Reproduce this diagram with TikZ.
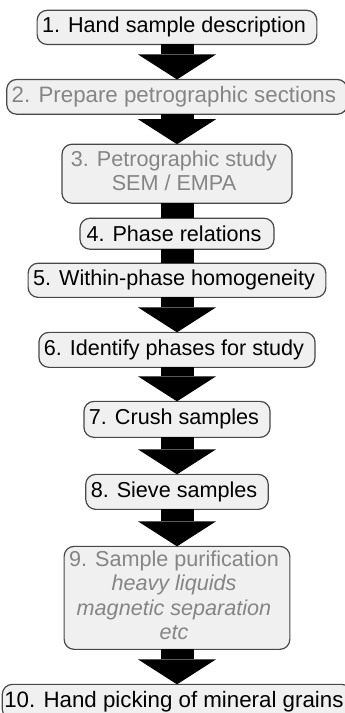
\documentclass[tikz,border=0pt]{standalone}
\usepackage{fontspec}
\setmainfont{Liberation Sans}
\usepackage{tikz}
\usetikzlibrary{arrows.meta}
\usetikzlibrary{matrix}
\colorlet{boxfill}{black!6}
\colorlet{boxline}{black!72}
\colorlet{greytext}{black!48}
\newcommand\lines[1]{\begin{tabular}{@{}c@{}}#1\end{tabular}}
\tikzstyle{stepbox}=[draw=boxline,fill=boxfill,line width=1.2pt,rounded corners=10pt,inner xsep=5pt,inner ysep=7pt,outer sep=0pt,minimum height=34pt,align=center,font=\fontsize{21.6pt}{24.5pt}\selectfont]
\tikzstyle{wide}=[font=\fontsize{22.3pt}{24.5pt}\selectfont]
\tikzstyle{faint}=[text=greytext]
\tikzstyle{flowhead}=[>/.tip={Triangle[length=25pt,width=78pt,line width=0pt]}]
\tikzstyle{flow}=[line width=33pt,flowhead,->]
\tikzstyle{link}=[line width=33pt]
\begin{document}
\begin{tikzpicture}
	\useasboundingbox (0,0) rectangle (345pt,-713pt);
	\matrix (m) at (177pt,-9.5pt) [matrix of nodes,anchor=north,inner sep=0pt,nodes={stepbox}] {
	  |[minimum width=278pt]| 1. Hand sample description \\[33.8pt]
	  |[faint,wide,minimum width=336pt]| 2. Prepare petrographic sections \\[28.8pt]
	  |[faint,minimum width=230pt,minimum height=59pt,inner ysep=4pt]| \lines{3. Petrographic study\\SEM / EMPA} \\[13.8pt]
	  |[minimum width=194pt,minimum height=31pt]| 4. Phase relations \\[12.8pt]
	  |[minimum width=288pt,minimum height=31pt]| 5. Within-phase homogeneity \\[33.8pt]
	  |[minimum width=270pt,minimum height=35pt]| 6. Identify phases for study \\[32.8pt]
	  |[minimum width=179pt,minimum height=36pt]| 7. Crush samples \\[35.8pt]
	  |[minimum width=173pt,minimum height=35pt]| 8. Sieve samples \\[35.8pt]
	  |[faint,minimum width=220pt,minimum height=103pt,inner ysep=2pt]| \lines{9. Sample purification\\\textit{heavy liquids}\\\textit{magnetic separation}\\\textit{etc}} \\[33.8pt]
	  |[wide,minimum width=341pt,inner xsep=2pt]| 10. Hand picking of mineral grains \\
	};
	\draw[flow] (m-1-1) -- (m-2-1);
	\draw[flow] (m-2-1) -- (m-3-1);
	\draw[link] (m-3-1) -- (m-4-1);
	\draw[link] (m-4-1) -- (m-5-1);
	\draw[flow] (m-5-1) -- (m-6-1);
	\draw[flow] (m-6-1) -- (m-7-1);
	\draw[flow] (m-7-1) -- (m-8-1);
	\draw[flow] (m-8-1) -- (m-9-1);
	\draw[flow] (m-9-1) -- (m-10-1);
\end{tikzpicture}
\end{document}
